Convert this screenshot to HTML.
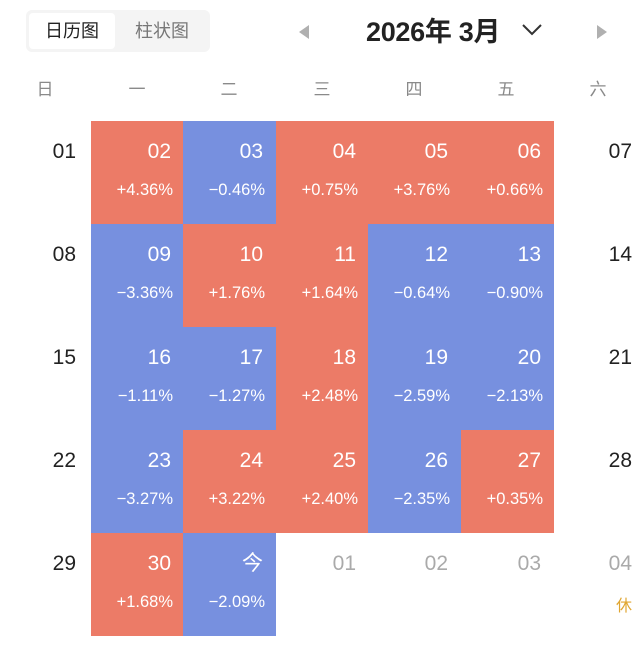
<!DOCTYPE html>
<html><head><meta charset="utf-8"><style>
body{margin:0;width:640px;height:650px;background:#fff;position:relative;overflow:hidden;font-family:"Liberation Sans","Noto Sans CJK SC",sans-serif}
.a{position:absolute}
.c{position:absolute;width:93px;height:103px}
.r{background:#EC7B67}.b{background:#7790DF}
.n{position:absolute;right:13px;top:19px;font-size:21px;color:#fff;line-height:24px}
.p{position:absolute;right:11px;top:59px;font-size:16.5px;color:#fff;line-height:20px}
.w{position:absolute;top:80px;font-size:17px;color:#8a8a8a;width:40px;text-align:center;line-height:20px}
.s{position:absolute;font-size:21px;color:#222;line-height:24px;text-align:right;width:40px}
.g{color:#aaa}
</style></head><body>
<div class="a" style="left:26px;top:10px;width:184px;height:42px;background:#f4f4f4;border-radius:6px"></div>
<div class="a" style="left:29px;top:13px;width:86px;height:36px;background:#fff;border-radius:4px"></div>
<div class="a" style="left:29px;top:20px;width:86px;text-align:center;font-size:18px;color:#222;line-height:22px">日历图</div>
<div class="a" style="left:118px;top:20px;width:88px;text-align:center;font-size:18px;color:#777;line-height:22px">柱状图</div>
<div class="a" style="left:299px;top:25px;width:0;height:0;border-top:7px solid transparent;border-bottom:7px solid transparent;border-right:10px solid #b0b0b0"></div>
<div class="a" style="left:597px;top:25px;width:0;height:0;border-top:7px solid transparent;border-bottom:7px solid transparent;border-left:10px solid #b0b0b0"></div>
<div class="a" style="left:366px;top:16px;font-size:27px;font-weight:bold;color:#222;line-height:32px;letter-spacing:-0.3px">2026年 3月</div>
<svg class="a" style="left:520px;top:22px" width="24" height="16"><polyline points="3,3 12,12 21,3" fill="none" stroke="#333" stroke-width="2"/></svg>
<div class="w" style="left:25px">日</div><div class="w" style="left:117px">一</div><div class="w" style="left:209px">二</div><div class="w" style="left:302px">三</div><div class="w" style="left:394px">四</div><div class="w" style="left:486px">五</div><div class="w" style="left:578px">六</div>

<div class="s" style="left:36px;top:140px">01</div><div class="s" style="left:592px;top:140px">07</div>
<div class="s" style="left:36px;top:243px">08</div><div class="s" style="left:592px;top:243px">14</div>
<div class="s" style="left:36px;top:346px">15</div><div class="s" style="left:592px;top:346px">21</div>
<div class="s" style="left:36px;top:449px">22</div><div class="s" style="left:592px;top:449px">28</div>
<div class="s" style="left:36px;top:552px">29</div><div class="s g" style="left:592px;top:552px">04</div>
<div class="a" style="left:612px;top:592px;font-size:16px;color:#E0A631;width:20px;text-align:right">休</div>

<div class="c r" style="left:91px;top:121px"><div class="n">02</div><div class="p">+4.36%</div></div>
<div class="c b" style="left:183px;top:121px"><div class="n">03</div><div class="p">−0.46%</div></div>
<div class="c r" style="left:276px;top:121px"><div class="n">04</div><div class="p">+0.75%</div></div>
<div class="c r" style="left:368px;top:121px"><div class="n">05</div><div class="p">+3.76%</div></div>
<div class="c r" style="left:461px;top:121px"><div class="n">06</div><div class="p">+0.66%</div></div>

<div class="c b" style="left:91px;top:224px"><div class="n">09</div><div class="p">−3.36%</div></div>
<div class="c r" style="left:183px;top:224px"><div class="n">10</div><div class="p">+1.76%</div></div>
<div class="c r" style="left:276px;top:224px"><div class="n">11</div><div class="p">+1.64%</div></div>
<div class="c b" style="left:368px;top:224px"><div class="n">12</div><div class="p">−0.64%</div></div>
<div class="c b" style="left:461px;top:224px"><div class="n">13</div><div class="p">−0.90%</div></div>

<div class="c b" style="left:91px;top:327px"><div class="n">16</div><div class="p">−1.11%</div></div>
<div class="c b" style="left:183px;top:327px"><div class="n">17</div><div class="p">−1.27%</div></div>
<div class="c r" style="left:276px;top:327px"><div class="n">18</div><div class="p">+2.48%</div></div>
<div class="c b" style="left:368px;top:327px"><div class="n">19</div><div class="p">−2.59%</div></div>
<div class="c b" style="left:461px;top:327px"><div class="n">20</div><div class="p">−2.13%</div></div>

<div class="c b" style="left:91px;top:430px"><div class="n">23</div><div class="p">−3.27%</div></div>
<div class="c r" style="left:183px;top:430px"><div class="n">24</div><div class="p">+3.22%</div></div>
<div class="c r" style="left:276px;top:430px"><div class="n">25</div><div class="p">+2.40%</div></div>
<div class="c b" style="left:368px;top:430px"><div class="n">26</div><div class="p">−2.35%</div></div>
<div class="c r" style="left:461px;top:430px"><div class="n">27</div><div class="p">+0.35%</div></div>

<div class="c r" style="left:91px;top:533px"><div class="n">30</div><div class="p">+1.68%</div></div>
<div class="c b" style="left:183px;top:533px"><div class="n">今</div><div class="p">−2.09%</div></div>
<div class="c" style="left:276px;top:533px"><div class="n g">01</div></div>
<div class="c" style="left:368px;top:533px"><div class="n g">02</div></div>
<div class="c" style="left:461px;top:533px"><div class="n g">03</div></div>
</body></html>
